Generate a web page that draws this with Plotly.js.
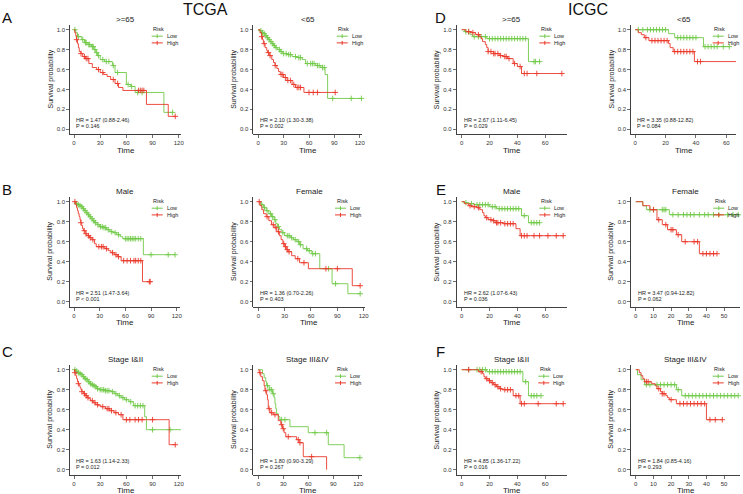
<!DOCTYPE html>
<html><head><meta charset="utf-8">
<script src="https://cdn.plot.ly/plotly-3.0.1.min.js"></script>
<style>html,body{margin:0;padding:0;background:#fff}#chart{width:743px;height:494px}</style>
</head><body><div id="chart"></div>
<script>
// ---------------- DATA ----------------
// Panel order (row-major): A1 TCGA >=65, A2 TCGA <65, D1 ICGC >=65, D2 ICGC <65,
// B1 TCGA Male, B2 TCGA Female, E1 ICGC Male, E2 ICGC Female,
// C1 TCGA Stage I&II, C2 TCGA Stage III&IV, F1 ICGC Stage I&II, F2 ICGC Stage III&IV
const A1_lowTime = [0,2,4,9,12,16,20,23,25,27,30,35,44,47,60,65,70,103];
const A1_lowSurv = [1,0.97,0.93,0.90,0.87,0.85,0.83,0.80,0.77,0.74,0.70,0.68,0.64,0.57,0.45,0.43,0.37,0.17];
const A1_lowCens = [1,5,10,13,14,17,18,21,22,24,26,28,33,37,40,45,50,62,66,73,78,113];
const A1_highTime = [0,1,2,3,4,5,6,8,10,13,17,21,26,30,34,38,42,47,51,56,83,108];
const A1_highSurv = [1,0.97,0.94,0.90,0.86,0.82,0.78,0.76,0.73,0.71,0.66,0.62,0.60,0.57,0.55,0.53,0.50,0.46,0.42,0.39,0.25,0.13];
const A1_highCens = [3,8,12,14,16,28,33,45,50,74,76,78,80,116];

const A2_lowTime = [0,2,4,6,8,10,12,14,16,18,20,23,26,29,34,40,46,52,56,68,74,79,82];
const A2_lowSurv = [1,0.99,0.97,0.96,0.94,0.92,0.90,0.88,0.86,0.84,0.82,0.80,0.78,0.76,0.75,0.73,0.72,0.70,0.66,0.64,0.62,0.55,0.31];
const A2_lowCens = [3,5,7,9,11,13,15,17,19,21,25,27,30,33,36,38,44,48,50,58,62,64,66,70,72,76,78,88,110,122];
const A2_highTime = [0,2,4,5,6,8,10,11,13,16,18,20,22,24,26,30,34,40,44,54];
const A2_highSurv = [1,0.97,0.93,0.90,0.86,0.82,0.79,0.77,0.74,0.70,0.67,0.64,0.61,0.58,0.55,0.52,0.49,0.45,0.42,0.37];
const A2_highCens = [4,7,12,14,20,27,29,32,35,38,42,46,48,50,60,65,70,91];

const D1_lowTime = [0,2,6,8,18,48];
const D1_lowSurv = [1,0.98,0.95,0.93,0.91,0.68];
const D1_lowCens = [3,5,9,12,14,17,20,22,24,26,28,30,32,34,36,38,40,42,44,46,52,53,56];
const D1_highTime = [0,3,7,10,13,14,15,17,18,19,23,27,30,33,37,40,43];
const D1_highSurv = [1,0.98,0.97,0.95,0.93,0.91,0.88,0.85,0.82,0.78,0.76,0.74,0.73,0.71,0.66,0.63,0.56];
const D1_highCens = [5,8,12,19,21,23,24,26,28,31,32,34,38,42,45,47,54,72];

const D2_lowTime = [0,22,26,45];
const D2_lowSurv = [1,0.96,0.92,0.83];
const D2_lowCens = [2,5,8,10,12,14,16,18,20,28,30,32,34,36,38,40,46,48,50,52,54,58,62];
const D2_highTime = [0,2,4,6,9,22,23,25,39];
const D2_highSurv = [1,0.97,0.95,0.92,0.89,0.86,0.82,0.78,0.68];
const D2_highCens = [7,11,13,15,17,19,21,26,28,30,32,34,36,38,41,43,67];

const B1_lowTime = [0,2,4,6,8,10,12,14,16,18,20,22,24,27,30,34,38,42,46,50,54,57,81];
const B1_lowSurv = [1,0.98,0.97,0.96,0.95,0.93,0.91,0.89,0.87,0.85,0.83,0.81,0.79,0.77,0.75,0.74,0.72,0.70,0.69,0.67,0.65,0.63,0.47];
const B1_lowCens = [3,5,7,9,11,13,15,17,19,21,23,25,28,31,33,35,37,40,44,48,52,60,62,64,66,68,70,72,75,78,90,110,118];
const B1_highTime = [0,2,3,4,5,6,7,8,9,10,11,13,15,18,21,24,26,36,40,43,47,51,55,80];
const B1_highSurv = [1,0.97,0.94,0.91,0.88,0.85,0.82,0.79,0.76,0.73,0.71,0.68,0.66,0.64,0.62,0.58,0.55,0.53,0.51,0.49,0.47,0.45,0.41,0.20];
const B1_highCens = [1,8,12,14,17,19,22,29,32,34,38,45,49,52,58,62,66,70,72,75,78,88,89];

const B2_lowTime = [0,3,6,9,12,15,18,20,22,24,27,30,37,40,44,47,51,56,61,70,84,102];
const B2_lowSurv = [1,0.97,0.94,0.91,0.88,0.85,0.82,0.78,0.75,0.72,0.69,0.66,0.64,0.62,0.60,0.57,0.53,0.51,0.48,0.33,0.18,0.08];
const B2_lowCens = [4,7,10,14,16,19,23,28,33,35,38,42,46,48,55,58,62,65,80,88,116];
const B2_highTime = [0,2,4,6,9,12,15,18,21,24,26,28,30,32,34,38,42,47,57,107];
const B2_highSurv = [1,0.96,0.92,0.88,0.85,0.81,0.77,0.74,0.70,0.66,0.62,0.58,0.55,0.52,0.50,0.46,0.43,0.39,0.33,0.16];
const B2_highCens = [1,10,17,20,23,29,31,33,35,45,52,77,90,116];

const E1_lowTime = [0,2,5,9,20,25,43,48];
const E1_lowSurv = [1,0.99,0.98,0.97,0.95,0.93,0.86,0.79];
const E1_lowCens = [3,7,11,13,15,17,19,22,24,27,29,31,33,35,37,39,41,45,50,52,54,56];
const E1_highTime = [0,2,5,7,11,13,15,16,17,19,22,24,30,39,42];
const E1_highSurv = [1,0.98,0.96,0.95,0.94,0.92,0.89,0.86,0.84,0.82,0.81,0.79,0.78,0.73,0.66];
const E1_highCens = [6,9,12,18,21,23,25,26,28,31,33,35,37,43,45,47,52,56,62,68,73];

const E2_lowTime = [0,4,6,19];
const E2_lowSurv = [1,0.96,0.92,0.87];
const E2_lowCens = [8,10,15,16,17,21,24,27,29,31,33,36,39,41,44,47,52,55,58];
const E2_highTime = [0,4,8,12,15,18,23,26,36];
const E2_highSurv = [1,0.96,0.92,0.82,0.77,0.72,0.67,0.60,0.48];
const E2_highCens = [10,13,17,20,21,24,28,33,35,38,40,42,44,46];

const C1_lowTime = [0,2,4,6,8,10,12,14,16,18,20,22,24,26,29,35,42,46,50,54,58,63,68,81,83];
const C1_lowSurv = [1,0.985,0.97,0.96,0.95,0.93,0.91,0.90,0.88,0.86,0.85,0.84,0.83,0.81,0.80,0.79,0.78,0.76,0.74,0.72,0.70,0.68,0.64,0.53,0.40];
const C1_lowCens = [1,3,5,7,9,11,13,15,17,19,21,23,25,27,30,32,34,36,38,40,44,48,52,56,60,65,70,73,76,79,90,110,123];
const C1_highTime = [0,1,2,3,4,5,6,7,8,9,11,13,15,17,19,22,25,28,31,36,41,46,51,56,109];
const C1_highSurv = [1,0.97,0.94,0.91,0.88,0.86,0.84,0.82,0.80,0.78,0.76,0.74,0.72,0.71,0.69,0.67,0.65,0.64,0.63,0.61,0.59,0.57,0.55,0.50,0.25];
const C1_highCens = [1,5,9,12,14,16,21,24,27,33,38,40,43,48,54,60,64,70,74,78,90,116];

const C2_lowTime = [0,5,7,9,10,13,17,19,20,21,22,24,26,38,60,84,103];
const C2_lowSurv = [1,0.96,0.92,0.88,0.84,0.80,0.76,0.72,0.66,0.61,0.56,0.53,0.50,0.43,0.37,0.25,0.12];
const C2_lowCens = [11,14,16,18,28,32,68,82,122];
const C2_highTime = [0,1,3,5,7,8,10,11,12,14,18,24,27,29,31,33,46,49,54,82];
const C2_highSurv = [1,0.97,0.93,0.89,0.84,0.79,0.75,0.70,0.61,0.57,0.55,0.49,0.45,0.41,0.37,0.33,0.30,0.27,0.13,0.0];
const C2_highCens = [2,9,13,16,20,28,30,36,48,50,64];

const F1_lowTime = [0,18,44,48];
const F1_lowSurv = [1,0.98,0.88,0.74];
const F1_lowCens = [5,11,13,15,17,20,22,24,26,28,30,32,34,36,38,40,42,46,50,52,54,57];
const F1_highTime = [0,12,15,16,17,19,21,23,25,27,29,37,42];
const F1_highSurv = [1,0.98,0.96,0.93,0.91,0.89,0.87,0.85,0.83,0.81,0.80,0.74,0.66];
const F1_highCens = [5,14,18,20,22,24,26,28,31,33,35,39,41,43,45,55,68,73];

const F2_lowTime = [0,1,3,5,23,26];
const F2_lowSurv = [1,0.95,0.90,0.85,0.80,0.74];
const F2_lowCens = [6,8,12,14,16,18,20,22,24,28,30,32,34,36,38,40,42,44,46,48,50,52,54,56,58];
const F2_highTime = [0,2,3,4,5,9,11,12,14,15,17,18,19,23,40];
const F2_highSurv = [1,0.97,0.94,0.91,0.88,0.86,0.84,0.81,0.78,0.76,0.74,0.72,0.70,0.66,0.50];
const F2_highCens = [6,7,13,15,16,20,25,27,29,31,33,35,37,39,42,45,49];

const panelTitles = ['&gt;=65','&lt;65','&gt;=65','&lt;65','Male','Female','Male','Female','Stage I&II','Stage III&IV','Stage I&II','Stage III&IV'];
const hrTexts = ['HR = 1.47 (0.88-2.46)','HR = 2.10 (1.30-3.38)','HR = 2.67 (1.11-6.45)','HR = 3.35 (0.88-12.82)',
                 'HR = 2.51 (1.47-3.64)','HR = 1.36 (0.70-2.26)','HR = 2.62 (1.07-6.43)','HR = 3.47 (0.94-12.82)',
                 'HR = 1.63 (1.14-2.33)','HR = 1.80 (0.90-3.29)','HR = 4.85 (1.36-17.22)','HR = 1.84 (0.85-4.16)'];
const pTexts = ['P = 0.146','P = 0.002','P = 0.029','P = 0.084',
                'P &lt; 0.001','P = 0.403','P = 0.036','P = 0.062',
                'P = 0.012','P = 0.267','P = 0.016','P = 0.293'];
const tcgaTicks = [0,30,60,90,120];
const icgcTicks = [0,20,40,60];
const icgcTicksFine = [0,10,20,30,40,50];
const yTicks = [0,0.2,0.4,0.6,0.8,1.0];
const riskLabels = ['Low','High'];
const sectionLetters = ['A','B','C','D','E','F'];
const cohortNames = ['TCGA','ICGC'];

// ---------------- LAYOUT / DRAWING ----------------
const W = 743, H = 494;
const FONT = 'Liberation Sans, Arial, Helvetica, sans-serif';
const GREEN = '#72C94A', RED = '#EA3A2B';
const curves = [
  [A1_lowTime,A1_lowSurv,A1_lowCens,A1_highTime,A1_highSurv,A1_highCens],
  [A2_lowTime,A2_lowSurv,A2_lowCens,A2_highTime,A2_highSurv,A2_highCens],
  [D1_lowTime,D1_lowSurv,D1_lowCens,D1_highTime,D1_highSurv,D1_highCens],
  [D2_lowTime,D2_lowSurv,D2_lowCens,D2_highTime,D2_highSurv,D2_highCens],
  [B1_lowTime,B1_lowSurv,B1_lowCens,B1_highTime,B1_highSurv,B1_highCens],
  [B2_lowTime,B2_lowSurv,B2_lowCens,B2_highTime,B2_highSurv,B2_highCens],
  [E1_lowTime,E1_lowSurv,E1_lowCens,E1_highTime,E1_highSurv,E1_highCens],
  [E2_lowTime,E2_lowSurv,E2_lowCens,E2_highTime,E2_highSurv,E2_highCens],
  [C1_lowTime,C1_lowSurv,C1_lowCens,C1_highTime,C1_highSurv,C1_highCens],
  [C2_lowTime,C2_lowSurv,C2_lowCens,C2_highTime,C2_highSurv,C2_highCens],
  [F1_lowTime,F1_lowSurv,F1_lowCens,F1_highTime,F1_highSurv,F1_highCens],
  [F2_lowTime,F2_lowSurv,F2_lowCens,F2_highTime,F2_highSurv,F2_highCens]
];
const rowBox = [{top:24.7,bot:134.3},{top:196.7,bot:306.7},{top:364.7,bot:474.7}];
// [left px, right px, xmin, xmax]
const panelGeo = [
  [70,181,-4.6,122.6],[253.3,362,-5.9,122.7],[456.7,566.7,-3.6,75.5],[631,736,-2.8,66.4],
  [70,180,-4.7,123.8],[253.3,365,-5.7,121.5],[456.7,566.7,-3.6,75.5],[631,740,-2.7,59],
  [70,181,-4.6,122.6],[253.3,362,-6,124.5],[456.7,566.7,-3.6,75.5],[631,740,-2.7,59]
];
const panelTicks = [tcgaTicks,tcgaTicks,icgcTicks,icgcTicks,tcgaTicks,tcgaTicks,icgcTicks,icgcTicksFine,tcgaTicks,tcgaTicks,icgcTicks,icgcTicksFine];
const legendX = [151.7,336.7,539.3,712.7, 151.7,335,539.3,713.3, 151.7,335,538.3,712.7];
const YMIN = -0.05, YMAX = 1.05;

const px = x => x / W;
const py = y => 1 - y / H;

function survAt(t, times, surv) {
  let s = surv[0];
  for (let i = 0; i < times.length; i++) { if (times[i] <= t) s = surv[i]; }
  return s;
}

const traces = [];
const annotations = [];
const shapes = [];
const layout = {
  width: W, height: H,
  margin: {l:0, r:0, t:0, b:0},
  paper_bgcolor: '#fff', plot_bgcolor: 'rgba(0,0,0,0)',
  showlegend: false,
  font: {family: FONT, color: '#222'}
};

curves.forEach((c, p) => {
  const n = p + 1;
  const xa = n === 1 ? 'x' : 'x' + n;
  const ya = n === 1 ? 'y' : 'y' + n;
  const row = Math.floor(p / 4);
  const box = rowBox[row];
  const g = panelGeo[p];
  layout['xaxis' + (n === 1 ? '' : n)] = {
    domain: [px(g[0]), px(g[1])], range: [g[2], g[3]], anchor: ya,
    showline: true, linecolor: '#111', linewidth: 0.8, mirror: false,
    ticks: 'outside', ticklen: 3, tickwidth: 0.7, tickcolor: '#333',
    tickvals: panelTicks[p], tickfont: {size: 6, color: '#333', family: FONT},
    showgrid: false, zeroline: false, fixedrange: true
  };
  layout['yaxis' + (n === 1 ? '' : n)] = {
    domain: [py(box.bot), py(box.top)], range: [YMIN, YMAX], anchor: xa,
    showline: true, linecolor: '#111', linewidth: 0.8,
    ticks: 'outside', ticklen: 3, tickwidth: 0.7, tickcolor: '#333',
    tickvals: yTicks, tickformat: '.1f', tickfont: {size: 6, color: '#333', family: FONT},
    showgrid: false, zeroline: false, fixedrange: true
  };
  const groups = [[c[0], c[1], c[2], GREEN], [c[3], c[4], c[5], RED]];
  groups.forEach(([t, s, cens, col]) => {
    const end = Math.max(t[t.length - 1], Math.max.apply(null, cens));
    const xs = t.slice(); const ys = s.slice();
    if (end > t[t.length - 1]) { xs.push(end); ys.push(s[s.length - 1]); }
    traces.push({x: xs, y: ys, xaxis: xa, yaxis: ya, type: 'scatter', mode: 'lines',
      line: {color: col, width: 0.9, shape: 'hv'}, hoverinfo: 'skip', cliponaxis: false});
    traces.push({x: cens, y: cens.map(v => survAt(v, t, s)), xaxis: xa, yaxis: ya, type: 'scatter', mode: 'markers',
      marker: {symbol: 'cross-thin', size: 4, line: {color: col, width: 0.9}, color: col}, hoverinfo: 'skip', cliponaxis: false});
  });
  // panel title
  const cx = (g[0] + g[1]) / 2;
  annotations.push({xref: 'paper', yref: 'paper', x: px(cx), y: py(box.top - 5.5), text: panelTitles[p],
    showarrow: false, xanchor: 'center', yanchor: 'middle', font: {size: 8, color: '#222', family: FONT}});
  // x title
  annotations.push({xref: 'paper', yref: 'paper', x: px(cx), y: py(box.bot + 16), text: 'Time',
    showarrow: false, xanchor: 'center', yanchor: 'middle', font: {size: 8, color: '#222', family: FONT}});
  // y title
  annotations.push({xref: 'paper', yref: 'paper', x: px(g[0] - 20), y: py((box.top + box.bot) / 2), text: 'Survival probability',
    showarrow: false, textangle: -90, xanchor: 'center', yanchor: 'middle', font: {size: 7, color: '#222', family: FONT}});
  // HR / P text
  const y0 = box.bot - 0.05 * (box.bot - box.top) / 1.1;
  annotations.push({xref: xa, yref: 'paper', x: 0, y: py(y0 - 9), text: hrTexts[p],
    showarrow: false, xanchor: 'left', yanchor: 'middle', font: {size: 5.5, color: '#222', family: FONT}});
  annotations.push({xref: xa, yref: 'paper', x: 0, y: py(y0 - 3), text: pTexts[p],
    showarrow: false, xanchor: 'left', yanchor: 'middle', font: {size: 5.5, color: '#222', family: FONT}});
  // legend
  const y1 = box.top + 0.05 * (box.bot - box.top) / 1.1;
  const lx = legendX[p];
  annotations.push({xref: 'paper', yref: 'paper', x: px(lx - 0.5), y: py(y1 - 1), text: 'Risk',
    showarrow: false, xanchor: 'left', yanchor: 'middle', font: {size: 5.5, color: '#222', family: FONT}});
  [[GREEN, 6.5], [RED, 13.2]].forEach(([col, dy], k) => {
    const ly = y1 + dy;
    shapes.push({type: 'line', xref: 'paper', yref: 'paper', x0: px(lx), x1: px(lx + 11), y0: py(ly), y1: py(ly), line: {color: col, width: 1}});
    shapes.push({type: 'line', xref: 'paper', yref: 'paper', x0: px(lx + 5.5), x1: px(lx + 5.5), y0: py(ly - 2), y1: py(ly + 2), line: {color: col, width: 1}});
    annotations.push({xref: 'paper', yref: 'paper', x: px(lx + 13), y: py(ly), text: riskLabels[k],
      showarrow: false, xanchor: 'left', yanchor: 'middle', font: {size: 5.5, color: '#222', family: FONT}});
  });
});

// section letters and cohort headers
const letterPos = [[7.5,17.5],[7.5,189],[7.5,351],[441,17.5],[441,189],[441,351]];
sectionLetters.forEach((L, i) => {
  annotations.push({xref: 'paper', yref: 'paper', x: px(letterPos[i][0]), y: py(letterPos[i][1]), text: L,
    showarrow: false, xanchor: 'center', yanchor: 'middle', font: {size: 15, color: '#111', family: FONT}});
});
const cohortPos = [[205,10],[588,10]];
cohortNames.forEach((name, i) => {
  annotations.push({xref: 'paper', yref: 'paper', x: px(cohortPos[i][0]), y: py(cohortPos[i][1]), text: name,
    showarrow: false, xanchor: 'center', yanchor: 'middle', font: {size: 16, color: '#111', family: FONT}});
});

layout.annotations = annotations;
layout.shapes = shapes;
Plotly.newPlot('chart', traces, layout, {staticPlot: true, displayModeBar: false});
</script></body></html>
